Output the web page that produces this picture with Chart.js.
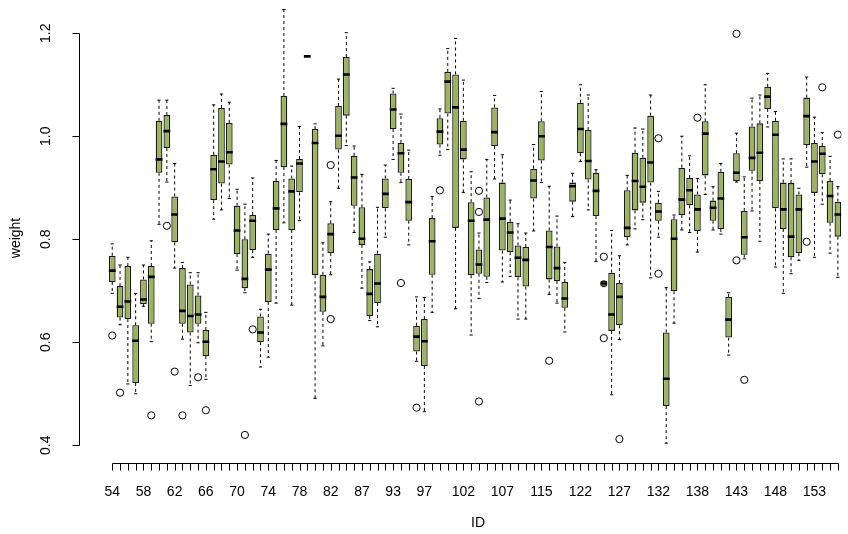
<!DOCTYPE html>
<html>
<head>
<meta charset="utf-8">
<script src="https://cdn.jsdelivr.net/npm/chart.js@4/dist/chart.umd.min.js"></script>
<style>
html, body { margin: 0; padding: 0; background: #fff; }
#wrap { width: 848px; height: 534px; }
</style>
</head>
<body>
<div id="wrap"><canvas id="bxChart" width="848" height="534"></canvas></div>
<script>
// one box per ID
var ids = [54,55,56,57,58,59,60,61,62,63,64,65,66,67,68,69,70,71,72,73,74,75,76,77,78,79,80,81,82,
    83,84,86,87,88,89,91,93,94,95,96,97,98,99,100,101,102,103,104,105,106,107,
    109,110,112,113,115,116,118,119,121,122,123,124,125,126,127,128,129,130,131,132,
    133,134,136,137,138,139,140,141,142,143,144,145,146,147,148,149,150,151,152,153,154,155,156];
var shownIds = [54,58,62,66,70,74,78,82,87,93,97,102,107,115,122,127,132,138,143,148,153];

var whiskLo = [0.695,0.634,0.519,0.500,0.670,0.601,0.829,0.911,0.744,0.606,0.516,0.599,0.528,0.839,0.857,0.879,0.740,0.696,0.765,0.552,
    0.571,0.676,0.832,0.672,0.836,1.155,0.491,0.593,0.731,0.899,0.982,0.813,0.705,0.642,0.630,0.804,0.955,0.910,0.789,0.563,
    0.465,0.658,0.963,0.974,0.665,0.891,0.614,0.685,0.716,0.917,0.717,0.728,0.645,0.645,0.816,0.910,0.693,0.676,0.620,0.844,
    0.951,0.857,0.757,0.708,0.498,0.605,0.789,0.820,0.838,0.725,0.804,0.404,0.637,0.818,0.813,0.775,0.887,0.818,0.810,0.575,
    0.911,0.762,0.855,0.796,1.018,0.746,0.695,0.733,0.759,0.940,0.765,0.868,0.773,0.726];
var q1 = [0.717,0.648,0.645,0.521,0.674,0.636,0.929,0.977,0.794,0.636,0.619,0.636,0.573,0.876,0.908,0.945,0.771,0.705,0.779,0.600,
    0.678,0.818,0.940,0.818,0.891,1.155,0.730,0.659,0.773,0.974,1.040,0.865,0.789,0.651,0.676,0.860,1.014,0.929,0.836,0.582,
    0.554,0.731,0.984,1.044,0.822,0.955,0.730,0.733,0.727,0.981,0.778,0.775,0.726,0.708,0.879,0.953,0.722,0.719,0.667,0.873,
    0.967,0.916,0.845,0.708,0.622,0.633,0.804,0.856,0.871,0.910,0.836,0.476,0.699,0.847,0.866,0.816,0.924,0.836,0.820,0.609,
    0.913,0.770,0.933,0.913,1.053,0.860,0.820,0.765,0.773,0.983,0.890,0.926,0.832,0.805];
var med = [0.739,0.669,0.679,0.603,0.683,0.727,0.955,1.010,0.848,0.661,0.651,0.654,0.601,0.936,0.951,0.969,0.817,0.723,0.836,0.619,
    0.741,0.860,1.024,0.893,0.947,1.155,0.987,0.688,0.810,1.001,1.120,0.920,0.801,0.694,0.714,0.888,1.052,0.967,0.872,0.611,
    0.602,0.796,1.009,1.106,1.056,0.974,0.836,0.751,0.838,1.008,0.840,0.813,0.764,0.760,0.914,1.000,0.785,0.744,0.685,0.903,
    1.014,0.952,0.894,0.714,0.654,0.688,0.822,0.913,0.902,0.949,0.854,0.529,0.801,0.877,0.895,0.858,1.005,0.861,0.879,0.644,
    0.929,0.804,0.958,0.968,1.077,1.003,0.858,0.805,0.858,1.039,0.951,0.966,0.884,0.848];
var q3 = [0.768,0.709,0.748,0.633,0.722,0.748,1.030,1.041,0.883,0.744,0.712,0.691,0.624,0.964,1.055,1.026,0.865,0.800,0.847,0.650,
    0.772,0.913,1.078,0.918,0.956,1.155,1.014,0.731,0.831,1.059,1.154,0.962,0.862,0.742,0.772,0.918,1.083,0.987,0.917,0.632,
    0.645,0.841,1.035,1.125,1.120,1.030,0.872,0.780,0.881,1.056,0.910,0.834,0.788,0.785,0.937,1.029,0.817,0.786,0.717,0.910,
    1.065,1.012,0.929,0.719,0.735,0.715,0.895,0.968,0.958,1.040,0.871,0.619,0.839,0.939,0.919,0.887,1.029,0.875,0.931,0.688,
    0.967,0.855,1.019,1.025,1.096,1.030,0.910,0.909,0.887,1.075,0.987,0.981,0.913,0.873];
var whiskHi = [0.791,0.750,0.765,0.695,0.750,0.797,1.070,1.070,0.947,0.755,0.735,0.735,0.658,1.061,1.082,1.066,0.897,0.868,0.919,0.664,
    0.810,0.953,1.246,0.942,1.019,1.155,1.024,0.793,0.873,1.111,1.201,0.981,0.926,0.756,0.862,0.944,1.093,1.043,0.973,0.688,
    0.687,0.883,1.053,1.170,1.190,1.109,0.931,0.812,0.955,1.079,0.964,0.876,0.830,0.812,0.984,1.087,0.903,0.845,0.755,0.928,
    1.100,1.080,0.935,0.719,0.817,0.768,0.924,1.016,1.014,1.080,0.893,0.706,0.847,1.000,0.962,0.918,1.100,0.902,0.947,0.696,
    1.006,0.921,1.074,1.080,1.122,1.048,0.956,0.956,0.899,1.115,1.037,1.007,0.961,0.902];
// [ID, weight]
var outliers = [[54,0.613],[55,0.502],[59,0.458],[61,0.826],[62,0.543],[63,0.458],[65,0.532],[66,0.468],
    [71,0.420],[72,0.625],[82,0.944],[82,0.645],[94,0.715],[96,0.473],[99,0.895],
    [104,0.894],[104,0.853],[104,0.485],[116,0.564],[125,0.766],[125,0.608],[127,0.412],
    [132,0.996],[132,0.733],[138,1.036],[143,1.199],[143,0.759],[144,0.527],[152,0.795],[154,1.095],[156,1.003]];
var yTicks = [0.4, 0.6, 0.8, 1.0, 1.2];

var boxData = [], medData = [], capData = [], whiskData = [], outData = [];
for (var i = 0; i < ids.length; i++) {
    var x = i + 1;
    boxData.push({x: x, y: [q1[i], q3[i]]});
    medData.push({x: x, y: med[i]});
    capData.push({x: x, y: whiskLo[i]}, {x: x, y: whiskHi[i]});
    whiskData.push({x: x, y: q3[i]}, {x: x, y: whiskHi[i]}, {x: x, y: null},
                   {x: x, y: q1[i]}, {x: x, y: whiskLo[i]}, {x: x, y: null});
}
outliers.forEach(function (o) {
    outData.push({x: ids.indexOf(o[0]) + 1, y: o[1]});
});

var FONT = '14px "Liberation Sans", Arial, sans-serif';

// R-like axes, drawn from the chart's own scales
var rAxes = {
    id: 'rAxes',
    afterDraw: function (chart) {
        var c = chart.ctx, xs = chart.scales.x, ys = chart.scales.y;
        var ax = chart.chartArea.left + 0.5;
        var ay = 463.5;
        c.save();
        c.strokeStyle = '#000';
        c.fillStyle = '#000';
        c.lineWidth = 1;
        c.font = FONT;

        c.beginPath();
        c.moveTo(ax, Math.round(ys.getPixelForValue(yTicks[0])) + 0.5);
        c.lineTo(ax, Math.round(ys.getPixelForValue(yTicks[yTicks.length - 1])) + 0.5);
        yTicks.forEach(function (v) {
            var py = Math.round(ys.getPixelForValue(v)) + 0.5;
            c.moveTo(ax, py);
            c.lineTo(ax - 7, py);
        });
        c.moveTo(Math.round(xs.getPixelForValue(1)) + 0.5, ay);
        c.lineTo(Math.round(xs.getPixelForValue(ids.length)) + 0.5, ay);
        ids.forEach(function (id, k) {
            var px = Math.round(xs.getPixelForValue(k + 1)) + 0.5;
            c.moveTo(px, ay);
            c.lineTo(px, ay + 7);
        });
        c.stroke();

        c.textAlign = 'center';
        c.textBaseline = 'middle';
        yTicks.forEach(function (v) {
            c.save();
            c.translate(46, ys.getPixelForValue(v));
            c.rotate(-Math.PI / 2);
            c.fillText(v.toFixed(1), 0, 0);
            c.restore();
        });
        ids.forEach(function (id, k) {
            if (shownIds.indexOf(id) >= 0) {
                c.fillText(String(id), xs.getPixelForValue(k + 1), 492);
            }
        });
        c.fillText('ID', 478, 523);
        c.save();
        c.translate(16, 238);
        c.rotate(-Math.PI / 2);
        c.fillText('weight', 0, 0);
        c.restore();
        c.restore();
    }
};

var bxChart = new Chart(document.getElementById('bxChart'), {
    type: 'bar',
    data: {
        datasets: [
            {
                type: 'bar',
                data: boxData,
                backgroundColor: '#9bb45e',
                borderColor: '#1a1a1a',
                borderWidth: 1.3,
                borderSkipped: false,
                barPercentage: 0.86,
                categoryPercentage: 1,
                order: 3
            },
            {
                type: 'line',
                data: whiskData,
                borderColor: '#000',
                borderWidth: 1,
                borderDash: [3, 3],
                pointRadius: 0,
                spanGaps: false,
                fill: false,
                order: 4
            },
            {
                type: 'scatter',
                data: capData,
                pointStyle: 'line',
                pointRadius: 1.6,
                borderColor: '#000',
                borderWidth: 1,
                order: 2
            },
            {
                type: 'scatter',
                data: medData,
                pointStyle: 'line',
                pointRadius: 3.4,
                borderColor: '#000',
                borderWidth: 2.6,
                order: 1
            },
            {
                type: 'scatter',
                data: outData,
                pointStyle: 'circle',
                pointRadius: 3.6,
                backgroundColor: 'rgba(0,0,0,0)',
                borderColor: '#000',
                borderWidth: 1,
                order: 0
            }
        ]
    },
    options: {
        responsive: false,
        animation: false,
        layout: { padding: { left: 79, right: 0, top: 0, bottom: 70 } },
        plugins: { legend: { display: false }, tooltip: { enabled: false } },
        scales: {
            x: { type: 'linear', display: false, min: -3.26, max: 94.45, offset: false },
            y: { type: 'linear', display: false, min: 0.3636, max: 1.2517 }
        }
    },
    plugins: [rAxes]
});
</script>
</body>
</html>
